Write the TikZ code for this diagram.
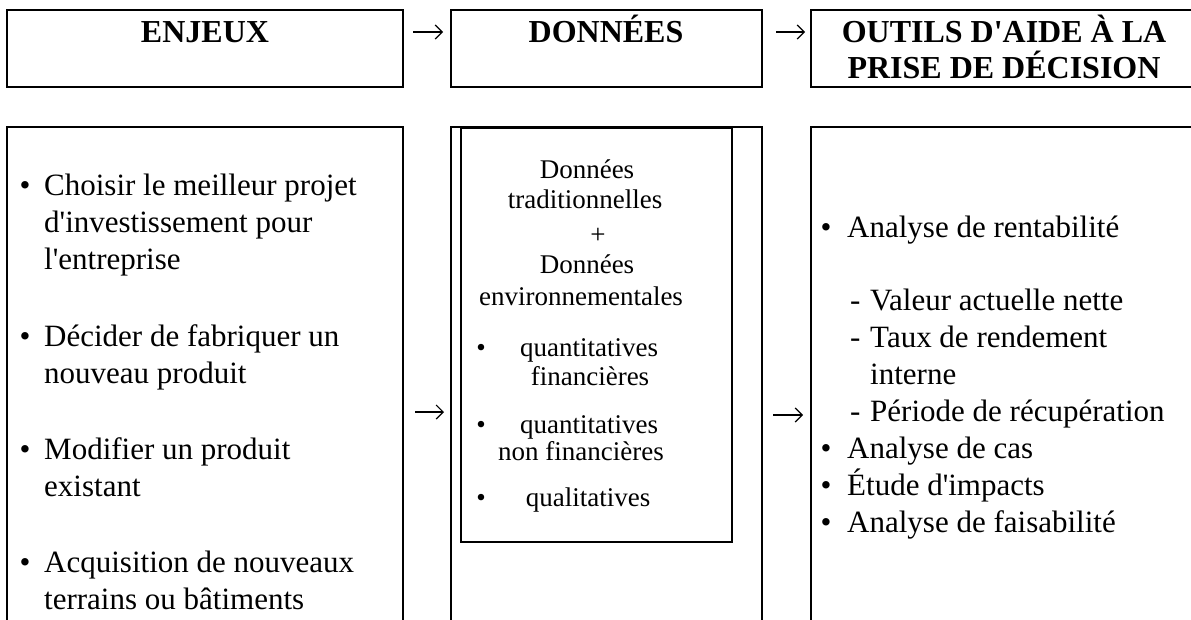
\documentclass[tikz,border=0pt]{standalone}
\usepackage{fontspec}
\setmainfont{Liberation Serif}[Ligatures=TeXOff]
\usetikzlibrary{arrows.meta}
\newcommand\fbody{\fontsize{31}{37}\selectfont}
\newcommand\fsmall{\fontsize{27}{30}\selectfont}
\newcommand\fhead{\fontsize{32}{35}\selectfont\bfseries}
\begin{document}
\begin{tikzpicture}[x=1pt,y=-1pt,
  box/.style={draw, line width=2pt, inner sep=0, fill=none},
  arr/.style={line width=1.2pt, -{Straight Barb[length=7pt,width=14pt]}},
  head/.style={font=\fhead, anchor=base, inner sep=0},
  body/.style={font=\fbody, anchor=base west, inner sep=0},
  bul/.style={font=\fbody, anchor=base, inner sep=0},
  small/.style={font=\fsmall, anchor=base, inner sep=0}]
\useasboundingbox (0,0) rectangle (1191,619);
% top row
\node[box, minimum width=396, minimum height=77] (h1) at (205,48.5) {};
\node[box, minimum width=311, minimum height=77] (h2) at (606.5,48.5) {};
\node[box, minimum width=389, minimum height=77] (h3) at (1005.5,48.5) {};
\node[head] (t1) at (205,42) {ENJEUX};
\node[head] (t2) at (606,42) {DONNÉES};
\node[head] (t3a) at (1004,42) {OUTILS D'AIDE À LA};
\node[head] (t3b) at (1004,78) {PRISE DE DÉCISION};
\coordinate (a1s) at (413,32); \coordinate (a1e) at (443,32);
\coordinate (a2s) at (776,32); \coordinate (a2e) at (805,32);
\draw[arr] (a1s) -- (a1e);
\draw[arr] (a2s) -- (a2e);
% bottom row
\node[box, minimum width=396, minimum height=513] (b1) at (205,383.5) {};
\node[box, minimum width=311, minimum height=513] (b2) at (606.5,383.5) {};
\node[box, minimum width=389, minimum height=513] (b3) at (1005.5,383.5) {};
\node[box, line width=1.8pt, minimum width=271, minimum height=414] (dbox) at (596.5,335) {};
\coordinate (a3s) at (415,412); \coordinate (a3e) at (444,412);
\coordinate (a4s) at (773,415); \coordinate (a4e) at (803,415);
\draw[arr] (a3s) -- (a3e);
\draw[arr] (a4s) -- (a4e);
% left column
\node[bul] (lb1) at (25,195) {•};
\node[body] (l1) at (44,195) {Choisir le meilleur projet};
\node[body] (l2) at (44,232) {d'investissement pour};
\node[body] (l3) at (44,269) {l'entreprise};
\node[bul] (lb2) at (25,346) {•};
\node[body] (l4) at (44,346) {Décider de fabriquer un};
\node[body] (l5) at (44,383) {nouveau produit};
\node[bul] (lb3) at (25,459) {•};
\node[body] (l6) at (44,459) {Modifier un produit};
\node[body] (l7) at (44,496) {existant};
\node[bul] (lb4) at (25,572) {•};
\node[body] (l8) at (44,572) {Acquisition de nouveaux};
\node[body] (l9) at (44,609) {terrains ou bâtiments};
% middle column
\node[small] (m1) at (587,178) {Données};
\node[small] (m2) at (585,208) {traditionnelles};
\node[small] (m3) at (598,243) {+};
\node[small] (m4) at (587,273) {Données};
\node[small] (m5) at (581,305) {environnementales};
\node[small] (mb1) at (481,356) {•};
\node[small] (m6) at (589,356) {quantitatives};
\node[small] (m7) at (590,385) {financières};
\node[small] (mb2) at (481,433) {•};
\node[small] (m8) at (589,433) {quantitatives};
\node[small] (m9) at (581,460) {non financières};
\node[small] (mb3) at (481,506) {•};
\node[small] (m10) at (588,506) {qualitatives};
% right column
\node[bul] (rb1) at (826,237) {•};
\node[body] (r1) at (847,237) {Analyse de rentabilité};
\node[body] (rd1) at (850,310) {-};
\node[body] (r2) at (870,310) {Valeur actuelle nette};
\node[body] (rd2) at (850,347) {-};
\node[body] (r3) at (870,347) {Taux de rendement};
\node[body] (r4) at (870,384) {interne};
\node[body] (rd3) at (850,421) {-};
\node[body] (r5) at (870,421) {Période de récupération};
\node[bul] (rb2) at (826,458) {•};
\node[body] (r6) at (847,458) {Analyse de cas};
\node[bul] (rb3) at (826,495) {•};
\node[body] (r7) at (847,495) {Étude d'impacts};
\node[bul] (rb4) at (826,532) {•};
\node[body] (r8) at (847,532) {Analyse de faisabilité};
\end{tikzpicture}
\end{document}
